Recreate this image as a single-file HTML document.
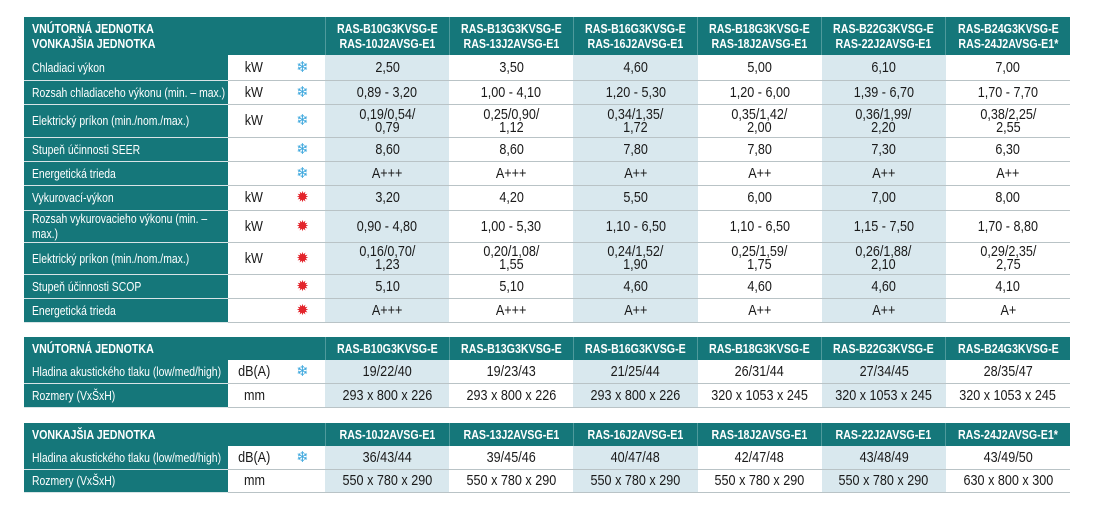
<!DOCTYPE html>
<html><head><meta charset="utf-8"><style>
body{margin:0;background:#fff;width:1093px;height:511px;position:relative;overflow:hidden;font-family:"Liberation Sans",sans-serif;}
table{position:absolute;left:24px;width:1046px;border-collapse:collapse;table-layout:fixed;}
td{padding:0;border-bottom:1px solid #b9c3c6;text-align:center;font-size:15px;color:#1a1a1a;line-height:13px;overflow:hidden;white-space:nowrap;}
td span{display:inline-block;transform:scaleX(0.84);transform-origin:center;}
td.l{background:#15777a;color:#fff;text-align:left;padding-left:8px;font-size:13px;border-bottom:1px solid #d8e4e6;line-height:15px;}
td.l span{transform:scaleX(0.8);transform-origin:left center;}
td.s{background:#d9e8ee;}
tr.h td{background:#15777a;color:#fff;font-weight:bold;font-size:13px;line-height:15px;border-bottom:none;border-left:1px solid #4f9a9c;}
tr.h td span{transform:scaleX(0.82);}
tr.h td.l{border-left:none;padding-left:8px;font-size:13px;}
tr.h td.l span{transform-origin:left center;}
.c{color:#3aa6dd;font-size:15px;font-family:"DejaVu Sans",sans-serif;}
.w{color:#e3242b;font-size:15px;font-family:"DejaVu Sans",sans-serif;}
</style></head><body>
<table style="top:17px">
<colgroup><col style="width:204px"><col style="width:52px"><col style="width:45px"><col><col><col><col><col><col></colgroup>
<tr class="h" style="height:38px"><td class="l" colspan="3"><span>VNÚTORNÁ JEDNOTKA<br>VONKAJŠIA JEDNOTKA</span></td><td><span>RAS-B10G3KVSG-E<br>RAS-10J2AVSG-E1</span></td><td><span>RAS-B13G3KVSG-E<br>RAS-13J2AVSG-E1</span></td><td><span>RAS-B16G3KVSG-E<br>RAS-16J2AVSG-E1</span></td><td><span>RAS-B18G3KVSG-E<br>RAS-18J2AVSG-E1</span></td><td><span>RAS-B22G3KVSG-E<br>RAS-22J2AVSG-E1</span></td><td><span>RAS-B24G3KVSG-E<br>RAS-24J2AVSG-E1*</span></td></tr>
<tr style="height:25px"><td class="l"><span>Chladiaci výkon</span></td><td><span>kW</span></td><td class="c">❄</td><td class="s"><span>2,50</span></td><td><span>3,50</span></td><td class="s"><span>4,60</span></td><td><span>5,00</span></td><td class="s"><span>6,10</span></td><td><span>7,00</span></td></tr>
<tr style="height:24px"><td class="l"><span>Rozsah chladiaceho výkonu (min. – max.)</span></td><td><span>kW</span></td><td class="c">❄</td><td class="s"><span>0,89 - 3,20</span></td><td><span>1,00 - 4,10</span></td><td class="s"><span>1,20 - 5,30</span></td><td><span>1,20 - 6,00</span></td><td class="s"><span>1,39 - 6,70</span></td><td><span>1,70 - 7,70</span></td></tr>
<tr style="height:33px"><td class="l"><span>Elektrický príkon (min./nom./max.)</span></td><td><span>kW</span></td><td class="c">❄</td><td class="s"><span>0,19/0,54/<br>0,79</span></td><td><span>0,25/0,90/<br>1,12</span></td><td class="s"><span>0,34/1,35/<br>1,72</span></td><td><span>0,35/1,42/<br>2,00</span></td><td class="s"><span>0,36/1,99/<br>2,20</span></td><td><span>0,38/2,25/<br>2,55</span></td></tr>
<tr style="height:24px"><td class="l"><span>Stupeň účinnosti SEER</span></td><td></td><td class="c">❄</td><td class="s"><span>8,60</span></td><td><span>8,60</span></td><td class="s"><span>7,80</span></td><td><span>7,80</span></td><td class="s"><span>7,30</span></td><td><span>6,30</span></td></tr>
<tr style="height:24px"><td class="l"><span>Energetická trieda</span></td><td></td><td class="c">❄</td><td class="s"><span>A+++</span></td><td><span>A+++</span></td><td class="s"><span>A++</span></td><td><span>A++</span></td><td class="s"><span>A++</span></td><td><span>A++</span></td></tr>
<tr style="height:25px"><td class="l"><span>Vykurovací-výkon</span></td><td><span>kW</span></td><td class="w">✹</td><td class="s"><span>3,20</span></td><td><span>4,20</span></td><td class="s"><span>5,50</span></td><td><span>6,00</span></td><td class="s"><span>7,00</span></td><td><span>8,00</span></td></tr>
<tr style="height:32px"><td class="l"><span>Rozsah vykurovacieho výkonu (min. –<br>max.)</span></td><td><span>kW</span></td><td class="w">✹</td><td class="s"><span>0,90 - 4,80</span></td><td><span>1,00 - 5,30</span></td><td class="s"><span>1,10 - 6,50</span></td><td><span>1,10 - 6,50</span></td><td class="s"><span>1,15 - 7,50</span></td><td><span>1,70 - 8,80</span></td></tr>
<tr style="height:32px"><td class="l"><span>Elektrický príkon (min./nom./max.)</span></td><td><span>kW</span></td><td class="w">✹</td><td class="s"><span>0,16/0,70/<br>1,23</span></td><td><span>0,20/1,08/<br>1,55</span></td><td class="s"><span>0,24/1,52/<br>1,90</span></td><td><span>0,25/1,59/<br>1,75</span></td><td class="s"><span>0,26/1,88/<br>2,10</span></td><td><span>0,29/2,35/<br>2,75</span></td></tr>
<tr style="height:24px"><td class="l"><span>Stupeň účinnosti SCOP</span></td><td></td><td class="w">✹</td><td class="s"><span>5,10</span></td><td><span>5,10</span></td><td class="s"><span>4,60</span></td><td><span>4,60</span></td><td class="s"><span>4,60</span></td><td><span>4,10</span></td></tr>
<tr style="height:24px"><td class="l"><span>Energetická trieda</span></td><td></td><td class="w">✹</td><td class="s"><span>A+++</span></td><td><span>A+++</span></td><td class="s"><span>A++</span></td><td><span>A++</span></td><td class="s"><span>A++</span></td><td><span>A+</span></td></tr>
</table>

<table style="top:337px">
<colgroup><col style="width:204px"><col style="width:52px"><col style="width:45px"><col><col><col><col><col><col></colgroup>
<tr class="h" style="height:23px"><td class="l" colspan="3"><span>VNÚTORNÁ JEDNOTKA</span></td><td><span>RAS-B10G3KVSG-E</span></td><td><span>RAS-B13G3KVSG-E</span></td><td><span>RAS-B16G3KVSG-E</span></td><td><span>RAS-B18G3KVSG-E</span></td><td><span>RAS-B22G3KVSG-E</span></td><td><span>RAS-B24G3KVSG-E</span></td></tr>
<tr style="height:23px"><td class="l"><span>Hladina akustického tlaku (low/med/high)</span></td><td><span>dB(A)</span></td><td class="c">❄</td><td class="s"><span>19/22/40</span></td><td><span>19/23/43</span></td><td class="s"><span>21/25/44</span></td><td><span>26/31/44</span></td><td class="s"><span>27/34/45</span></td><td><span>28/35/47</span></td></tr>
<tr style="height:24px"><td class="l"><span>Rozmery (VxŠxH)</span></td><td><span>mm</span></td><td></td><td class="s"><span>293 x 800 x 226</span></td><td><span>293 x 800 x 226</span></td><td class="s"><span>293 x 800 x 226</span></td><td><span>320 x 1053 x 245</span></td><td class="s"><span>320 x 1053 x 245</span></td><td><span>320 x 1053 x 245</span></td></tr>
</table>

<table style="top:423px">
<colgroup><col style="width:204px"><col style="width:52px"><col style="width:45px"><col><col><col><col><col><col></colgroup>
<tr class="h" style="height:23px"><td class="l" colspan="3"><span>VONKAJŠIA JEDNOTKA</span></td><td><span>RAS-10J2AVSG-E1</span></td><td><span>RAS-13J2AVSG-E1</span></td><td><span>RAS-16J2AVSG-E1</span></td><td><span>RAS-18J2AVSG-E1</span></td><td><span>RAS-22J2AVSG-E1</span></td><td><span>RAS-24J2AVSG-E1*</span></td></tr>
<tr style="height:23px"><td class="l"><span>Hladina akustického tlaku (low/med/high)</span></td><td><span>dB(A)</span></td><td class="c">❄</td><td class="s"><span>36/43/44</span></td><td><span>39/45/46</span></td><td class="s"><span>40/47/48</span></td><td><span>42/47/48</span></td><td class="s"><span>43/48/49</span></td><td><span>43/49/50</span></td></tr>
<tr style="height:23px"><td class="l"><span>Rozmery (VxŠxH)</span></td><td><span>mm</span></td><td></td><td class="s"><span>550 x 780 x 290</span></td><td><span>550 x 780 x 290</span></td><td class="s"><span>550 x 780 x 290</span></td><td><span>550 x 780 x 290</span></td><td class="s"><span>550 x 780 x 290</span></td><td><span>630 x 800 x 300</span></td></tr>
</table>
</body></html>
